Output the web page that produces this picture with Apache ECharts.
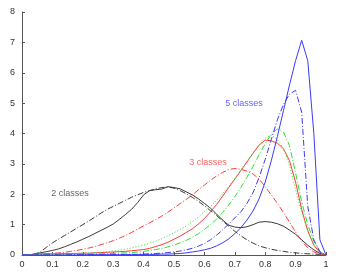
<!DOCTYPE html>
<html><head><meta charset="utf-8">
<script src="https://cdn.jsdelivr.net/npm/echarts@6/dist/echarts.min.js"></script>
<style>html,body{margin:0;padding:0;background:#fff}#c{width:341px;height:273px}</style>
</head><body><div id="c"></div>
<script>
// x grid (step 0.02)
var xs = [];
for (var i = 0; i <= 50; i++) xs.push(+(i * 0.02).toFixed(2));

var xTicks = [0, 0.1, 0.2, 0.3, 0.4, 0.5, 0.6, 0.7, 0.8, 0.9, 1];
var yTicks = [0, 1, 2, 3, 4, 5, 6, 7, 8];

// 2 classes
var black_solid = [0,0,0.03,0.07,0.11,0.15,0.2,0.27,0.35,0.43,0.52,0.61,0.71,0.81,0.91,1.02,1.17,1.33,1.5,1.72,1.98,2.12,2.15,2.17,2.25,2.22,2.18,2.08,1.98,1.85,1.7,1.54,1.35,1.15,0.98,0.92,0.9,0.93,1.0,1.08,1.1,1.08,1.03,0.95,0.82,0.68,0.5,0.32,0.17,0.05,0];
var black_dashdot = [0,0,0.02,0.1,0.25,0.4,0.52,0.64,0.76,0.88,1.0,1.12,1.25,1.38,1.5,1.6,1.7,1.8,1.9,1.98,2.06,2.12,2.18,2.22,2.24,2.2,2.12,2.02,1.9,1.77,1.62,1.46,1.3,1.12,0.95,0.78,0.63,0.5,0.39,0.3,0.24,0.19,0.15,0.12,0.09,0.07,0.05,0.04,0.03,0.02,0];
// 3 classes
var red_solid = [0,0,0.03,0.04,0.04,0.04,0.04,0.05,0.05,0.05,0.06,0.06,0.07,0.08,0.09,0.1,0.11,0.12,0.14,0.16,0.18,0.22,0.28,0.34,0.42,0.52,0.62,0.74,0.86,1.02,1.2,1.42,1.66,1.94,2.22,2.5,2.78,3.06,3.35,3.62,3.78,3.76,3.68,3.5,3.1,2.4,1.5,0.8,0.32,0.08,0];
var red_dashdot = [0,0,0.02,0.03,0.04,0.05,0.07,0.09,0.12,0.15,0.19,0.23,0.28,0.34,0.4,0.47,0.55,0.64,0.74,0.85,0.96,1.06,1.17,1.28,1.41,1.55,1.69,1.83,1.98,2.14,2.3,2.46,2.6,2.72,2.81,2.85,2.82,2.76,2.67,2.5,2.25,1.98,1.7,1.4,1.08,0.75,0.46,0.24,0.1,0.03,0];
// 4 classes
var green_dotted = [0,0,0.01,0.01,0.02,0.02,0.03,0.03,0.04,0.05,0.06,0.07,0.08,0.09,0.11,0.13,0.16,0.19,0.23,0.28,0.33,0.39,0.46,0.54,0.63,0.73,0.84,0.96,1.1,1.25,1.42,1.6,1.8,2.02,2.26,2.52,2.8,3.08,3.36,3.62,3.85,3.95,3.8,3.5,2.95,2.15,1.4,0.8,0.35,0.1,0];
var green_dashdot = [0,0,0.01,0.01,0.01,0.02,0.02,0.02,0.03,0.03,0.03,0.04,0.04,0.04,0.05,0.05,0.06,0.07,0.08,0.1,0.12,0.15,0.18,0.22,0.27,0.33,0.4,0.48,0.58,0.7,0.84,1.0,1.18,1.4,1.65,1.92,2.22,2.56,2.92,3.3,3.66,3.98,4.15,4.05,3.6,2.7,1.75,1.0,0.45,0.12,0];
// 5 classes
var blue_solid = [0,0,0,0,0,0,0,0,0,0,0,0.01,0.01,0.01,0.01,0.01,0.01,0.01,0.02,0.02,0.02,0.02,0.02,0.03,0.03,0.04,0.05,0.07,0.1,0.13,0.17,0.22,0.3,0.4,0.53,0.7,0.9,1.15,1.45,1.85,2.4,3.1,3.9,4.75,5.6,6.4,7.07,6.4,4.0,0.5,0];
var blue_dashdot = [0,0,0,0,0,0,0,0,0.01,0.01,0.01,0.01,0.01,0.01,0.01,0.01,0.02,0.02,0.02,0.02,0.03,0.04,0.05,0.06,0.08,0.1,0.13,0.17,0.22,0.29,0.38,0.5,0.65,0.83,1.02,1.22,1.42,1.7,2.05,2.55,3.15,3.8,4.45,4.95,5.3,5.42,4.7,1.6,0.5,0.1,0];

var labelTexts = ['2 classes', '3 classes', '5 classes'];
var labelX = [0.158, 0.612, 0.73];
var labelY = [2.04, 3.03, 5.0];

function pairs(arr) { return xs.map(function (x, i) { return [x, arr[i]]; }); }

var DASHDOT = [6, 2, 1, 2];
var DOTTED = [1, 2];
var cBlack = '#3a3a3a', cRed = '#ff3a3a', cGreen = '#2ee02e', cBlue = '#3a3aff';

function line(data, color, type) {
  return {
    type: 'line', data: pairs(data), showSymbol: false, symbol: 'none', silent: true,
    lineStyle: { color: color, width: 1, type: type }, animation: false
  };
}

var chart = echarts.init(document.getElementById('c'), null, { renderer: 'canvas' });
chart.setOption({
  animation: false,
  backgroundColor: '#fff',
  grid: { left: 22, right: 15, top: 12, bottom: 18 },
  xAxis: {
    type: 'value', min: 0, max: 1, interval: 0.1,
    axisLine: { lineStyle: { color: '#555' } },
    axisTick: { inside: true, length: 3, lineStyle: { color: '#555' } },
    splitLine: { show: false },
    axisLabel: { fontSize: 9, color: '#333', margin: 5, fontFamily: 'Liberation Sans',
      formatter: function (v) { var r = Math.round(v * 10) / 10; return xTicks.indexOf(r) >= 0 ? String(r) : ''; } }
  },
  yAxis: {
    type: 'value', min: 0, max: 8, interval: 1,
    axisLine: { show: true, lineStyle: { color: '#555' } },
    axisTick: { show: true, inside: true, length: 3, lineStyle: { color: '#555' } },
    splitLine: { show: false },
    axisLabel: { fontSize: 9, color: '#333', margin: 7, fontFamily: 'Liberation Sans',
      formatter: function (v) { return yTicks.indexOf(v) >= 0 ? String(v) : ''; } }
  },
  series: [
    line(black_dashdot, cBlack, DASHDOT),
    line(black_solid, cBlack, 'solid'),
    line(red_dashdot, cRed, DASHDOT),
    line(red_solid, cRed, 'solid'),
    line(green_dotted, cGreen, DOTTED),
    line(green_dashdot, cGreen, DASHDOT),
    line(blue_dashdot, cBlue, DASHDOT),
    line(blue_solid, cBlue, 'solid'),
    {
      type: 'scatter', symbolSize: 0, silent: true,
      data: labelTexts.map(function (t, i) {
        return { value: [labelX[i], labelY[i]], name: t,
          label: { show: true, position: 'inside', formatter: t, fontSize: 9, fontFamily: 'Liberation Sans',
            color: [cBlack, cRed, cBlue][i] } };
      })
    }
  ]
});
</script></body></html>
